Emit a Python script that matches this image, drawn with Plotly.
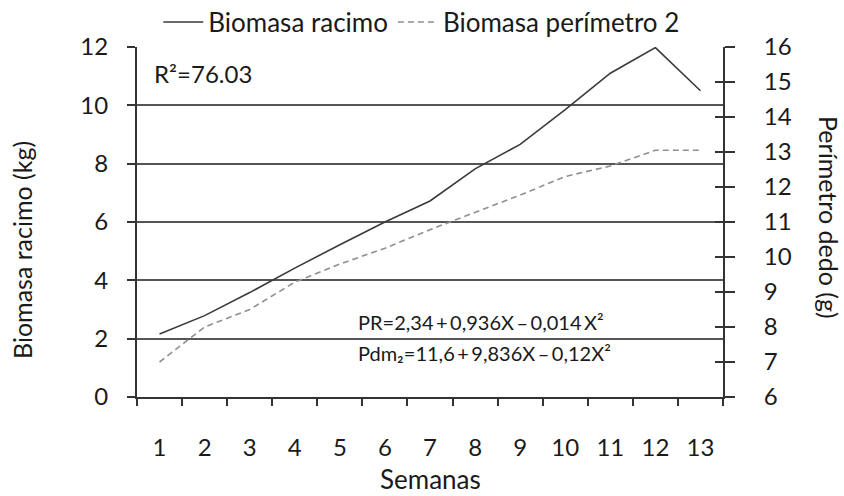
import plotly.graph_objects as go

semanas = [str(i) for i in range(1, 14)]
biomasa_racimo = [2.16, 2.79, 3.58, 4.42, 5.22, 6.0, 6.72, 7.82, 8.66, 9.85, 11.1, 11.98, 10.5]
perimetro_dedo = [7.0, 8.0, 8.5, 9.28, 9.8, 10.25, 10.78, 11.28, 11.77, 12.3, 12.6, 13.05, 13.05]

FONT = "Lato"
TXT = "#1a1a1a"
FS = 24

fig = go.Figure()
fig.add_trace(go.Scatter(x=semanas, y=biomasa_racimo, mode="lines", name="Biomasa racimo",
                         line=dict(color="#3a3a3a", width=1.6), yaxis="y"))
fig.add_trace(go.Scatter(x=semanas, y=perimetro_dedo, mode="lines", name="Biomasa perímetro 2",
                         line=dict(color="#8f8f8f", width=1.6, dash="6px,4px"), yaxis="y2"))
# invisible trace to activate yaxis3 (inside ticks of right axis)
fig.add_trace(go.Scatter(x=semanas, y=perimetro_dedo, yaxis="y3", mode="lines",
                         line=dict(width=0), showlegend=False, hoverinfo="skip", opacity=0))

fig.update_layout(
    width=844, height=496,
    margin=dict(l=137, r=121, t=47, b=99, autoexpand=False),
    paper_bgcolor="white", plot_bgcolor="white",
    font=dict(family=FONT, size=FS, color=TXT),
    showlegend=True,
    legend=dict(orientation="h", x=0.486, xanchor="center", y=1.071, yanchor="middle",
                font=dict(size=26), bgcolor="rgba(0,0,0,0)", itemwidth=40,
                tracegroupgap=0),
    xaxis=dict(type="category", categoryorder="array", categoryarray=semanas,
               range=[-0.5, 12.5], automargin=False,
               tickson="boundaries", ticks="outside", ticklen=7, tickwidth=2,
               tickcolor="#333", showline=True, linecolor="#333", linewidth=2,
               showgrid=False, ticklabelstandoff=28),
    yaxis=dict(range=[0, 12], dtick=2, tick0=0, ticks="outside", ticklen=8, tickwidth=2,
               tickcolor="#333", showline=True, linecolor="#333", linewidth=2,
               showgrid=True, gridcolor="#555", gridwidth=2, zeroline=False,
               ticklabelstandoff=14, automargin=False),
    yaxis2=dict(range=[6, 16], dtick=1, tick0=6, overlaying="y", side="right",
                ticks="outside", ticklen=10, tickwidth=2, tickcolor="#333",
                showline=True, linecolor="#333", linewidth=2, showgrid=False,
                zeroline=False, ticklabelstandoff=24, automargin=False),
    yaxis3=dict(range=[6, 16], dtick=1, tick0=6, overlaying="y", side="right",
                ticks="inside", ticklen=8, tickwidth=2, tickcolor="#333",
                showline=False, showgrid=False, zeroline=False, showticklabels=False,
                automargin=False),
)

ann = [
    dict(text="Biomasa racimo (kg)", x=(22 - 137) / 586, y=(397 - 250) / 350, textangle=-90,
         font=dict(size=25)),
    dict(text="Perímetro dedo (g)", x=(829 - 137) / 586, y=(397 - 217) / 350, textangle=90,
         font=dict(size=25)),
    dict(text="Semanas", x=(430 - 137) / 586, y=(397 - 479) / 350, textangle=0,
         font=dict(size=26)),
]
for a in ann:
    fig.add_annotation(xref="paper", yref="paper", showarrow=False, xanchor="center",
                       yanchor="middle", **a)

TS = "\u2009"
fig.add_annotation(xref="paper", yref="paper", x=(152 - 137) / 586, y=(397 - 73) / 350,
                   xanchor="left", yanchor="middle", showarrow=False,
                   text="R²=76.03", font=dict(size=FS))
fig.add_annotation(xref="paper", yref="paper", x=(356 - 137) / 586, y=(397 - 322) / 350,
                   xanchor="left", yanchor="middle", showarrow=False,
                   text=f"PR=2,34{TS}+{TS}0,936X{TS}–{TS}0,014{TS}X²", font=dict(size=20))
fig.add_annotation(xref="paper", yref="paper", x=(356 - 137) / 586, y=(397 - 353) / 350,
                   xanchor="left", yanchor="middle", showarrow=False,
                   text=f"Pdm₂=11,6{TS}+{TS}9,836X{TS}–{TS}0,12X²", font=dict(size=20))

fig.write_html("out.html")
